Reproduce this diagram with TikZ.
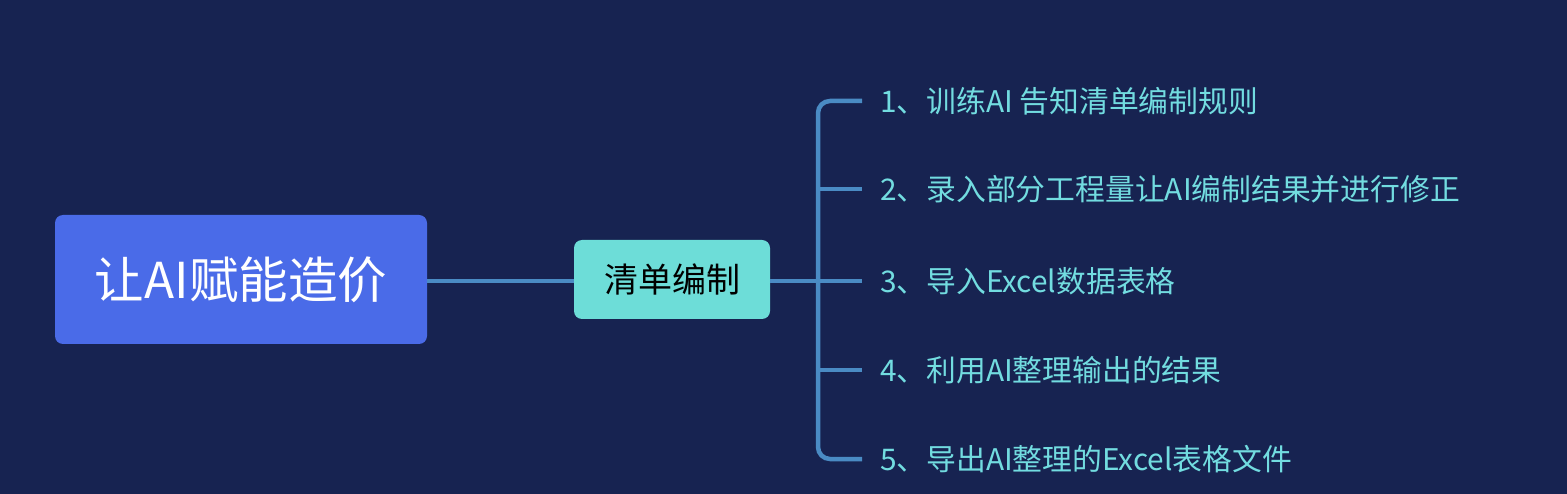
\documentclass[tikz,border=0pt]{standalone}
\usepackage{fontspec}
\setmainfont{Noto Sans CJK SC}
\definecolor{bg}{HTML}{172351}
\definecolor{rootc}{HTML}{4A6BE8}
\definecolor{midc}{HTML}{6DDDD8}
\definecolor{linec}{HTML}{4A8BC4}
\definecolor{leafc}{HTML}{72DCE0}
\begin{document}
\begin{tikzpicture}[x=1pt,y=-1pt,
  rootbox/.style={fill=rootc,rounded corners=8pt,minimum width=372pt,minimum height=129pt,text=white,font=\fontsize{49.5}{54}\selectfont,inner sep=0pt},
  midbox/.style={fill=midc,rounded corners=8pt,minimum width=196pt,minimum height=79pt,text=black,font=\fontsize{34}{38}\selectfont,inner sep=0pt},
  leaf/.style={anchor=west,text=leafc,font=\fontsize{29.8}{34}\selectfont,inner sep=0pt},
  conn/.style={draw=linec,line width=4.5pt,rounded corners=12pt}]
\fill[bg] (0,0) rectangle (1567,494);
\useasboundingbox (0,0) rectangle (1567,494);
\node[rootbox] (root) at (241,279.5) {让AI赋能造价};
\node[midbox] (mid) at (672,279.5) {清单编制};
\coordinate (bus) at (818,281);
\coordinate (e1) at (862,101);
\coordinate (e2) at (862,189);
\coordinate (e3) at (862,281);
\coordinate (e4) at (862,370);
\coordinate (e5) at (862,459);
\node[leaf] (l1) at (880,101) {1、训练AI 告知清单编制规则};
\node[leaf] (l2) at (880,189) {2、录入部分工程量让AI编制结果并进行修正};
\node[leaf] (l3) at (880,281) {3、导入Excel数据表格};
\node[leaf] (l4) at (880,370) {4、利用AI整理输出的结果};
\node[leaf] (l5) at (880,459) {5、导出AI整理的Excel表格文件};
\draw[conn] (root.east |- 0,281) -- (mid.west |- 0,281);
\draw[conn] (mid.east |- 0,281) -- (e3);
\draw[conn] (e1) -- (bus |- e1) -- (bus |- e5) -- (e5);
\draw[conn] (bus |- e2) -- (e2);
\draw[conn] (bus |- e4) -- (e4);
\end{tikzpicture}
\end{document}
